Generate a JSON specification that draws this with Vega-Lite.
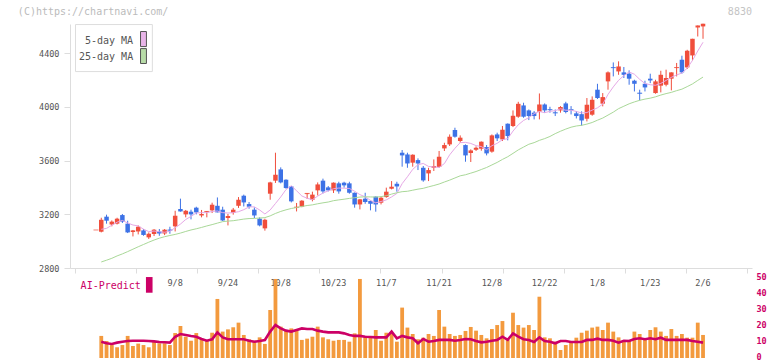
{
"$schema": "https://vega.github.io/schema/vega-lite/v6.json",
"width": 682, "height": 358,
"autosize": {"type": "none"},
"padding": {"left": 70, "top": 0, "right": 20, "bottom": 3},
"background": "white",
"config": {"view": {"stroke": null}, "font": "DejaVu Sans Mono"},
"datasets": {
"quotes": [
{"i":0,"date":"2025-08-18","open":3083,"high":3083,"low":3083,"close":3083,"volume":null,"ai":null,"ma5":null,"ma25":null},
{"i":1,"date":"2025-08-19","open":3070,"high":3174,"low":3065,"close":3159,"volume":13.8,"ai":10.2,"ma5":3088,"ma25":2845},
{"i":2,"date":"2025-08-20","open":3182,"high":3197,"low":3130,"close":3152,"volume":10.6,"ai":9.2,"ma5":3095,"ma25":2858},
{"i":3,"date":"2025-08-21","open":3124,"high":3154,"low":3110,"close":3145,"volume":8.1,"ai":8.8,"ma5":3118,"ma25":2872},
{"i":4,"date":"2025-08-22","open":3130,"high":3174,"low":3124,"close":3167,"volume":6.7,"ai":9.6,"ma5":3141,"ma25":2890},
{"i":5,"date":"2025-08-25","open":3194,"high":3202,"low":3135,"close":3145,"volume":8.1,"ai":10.2,"ma5":3154,"ma25":2905},
{"i":6,"date":"2025-08-26","open":3130,"high":3152,"low":3060,"close":3065,"volume":13.8,"ai":10.6,"ma5":3135,"ma25":2922},
{"i":7,"date":"2025-08-27","open":3068,"high":3083,"low":3035,"close":3080,"volume":7.5,"ai":10.8,"ma5":3120,"ma25":2940},
{"i":8,"date":"2025-08-28","open":3072,"high":3117,"low":3050,"close":3107,"volume":9.0,"ai":10.8,"ma5":3113,"ma25":2958},
{"i":9,"date":"2025-08-29","open":3080,"high":3090,"low":3040,"close":3046,"volume":8.1,"ai":10.8,"ma5":3089,"ma25":2975},
{"i":10,"date":"2025-09-01","open":3028,"high":3065,"low":3016,"close":3055,"volume":6.7,"ai":10.6,"ma5":3071,"ma25":2992},
{"i":11,"date":"2025-09-02","open":3053,"high":3090,"low":3038,"close":3085,"volume":10.6,"ai":10.4,"ma5":3075,"ma25":3008},
{"i":12,"date":"2025-09-03","open":3072,"high":3090,"low":3040,"close":3057,"volume":9.2,"ai":10.0,"ma5":3070,"ma25":3022},
{"i":13,"date":"2025-09-04","open":3057,"high":3090,"low":3045,"close":3085,"volume":9.2,"ai":9.8,"ma5":3066,"ma25":3033},
{"i":14,"date":"2025-09-05","open":3085,"high":3107,"low":3055,"close":3081,"volume":8.1,"ai":9.6,"ma5":3073,"ma25":3042},
{"i":15,"date":"2025-09-08","open":3110,"high":3226,"low":3072,"close":3189,"volume":15.6,"ai":13.3,"ma5":3100,"ma25":3050},
{"i":16,"date":"2025-09-09","open":3239,"high":3316,"low":3219,"close":3221,"volume":20.0,"ai":15.0,"ma5":3127,"ma25":3060},
{"i":17,"date":"2025-09-10","open":3199,"high":3232,"low":3177,"close":3226,"volume":13.3,"ai":14.4,"ma5":3161,"ma25":3072},
{"i":18,"date":"2025-09-11","open":3219,"high":3234,"low":3162,"close":3199,"volume":10.8,"ai":13.8,"ma5":3184,"ma25":3083},
{"i":19,"date":"2025-09-12","open":3249,"high":3256,"low":3199,"close":3214,"volume":15.6,"ai":13.3,"ma5":3210,"ma25":3092},
{"i":20,"date":"2025-09-16","open":3191,"high":3232,"low":3177,"close":3202,"volume":11.9,"ai":11.9,"ma5":3212,"ma25":3102},
{"i":21,"date":"2025-09-17","open":3216,"high":3224,"low":3177,"close":3221,"volume":10.8,"ai":10.8,"ma5":3212,"ma25":3113},
{"i":22,"date":"2025-09-18","open":3229,"high":3286,"low":3209,"close":3271,"volume":15.8,"ai":11.7,"ma5":3221,"ma25":3123},
{"i":23,"date":"2025-09-19","open":3263,"high":3325,"low":3214,"close":3214,"volume":36.9,"ai":16.0,"ma5":3224,"ma25":3134},
{"i":24,"date":"2025-09-22","open":3234,"high":3256,"low":3150,"close":3154,"volume":16.5,"ai":12.9,"ma5":3212,"ma25":3145},
{"i":25,"date":"2025-09-24","open":3172,"high":3202,"low":3117,"close":3187,"volume":17.9,"ai":11.7,"ma5":3209,"ma25":3149},
{"i":26,"date":"2025-09-25","open":3211,"high":3247,"low":3197,"close":3234,"volume":19.2,"ai":11.7,"ma5":3212,"ma25":3152},
{"i":27,"date":"2025-09-26","open":3263,"high":3328,"low":3247,"close":3308,"volume":22.1,"ai":11.7,"ma5":3219,"ma25":3158},
{"i":28,"date":"2025-09-29","open":3338,"high":3346,"low":3258,"close":3288,"volume":14.4,"ai":11.7,"ma5":3234,"ma25":3164},
{"i":29,"date":"2025-09-30","open":3276,"high":3291,"low":3241,"close":3256,"volume":11.7,"ai":10.8,"ma5":3255,"ma25":3168},
{"i":30,"date":"2025-10-01","open":3234,"high":3251,"low":3172,"close":3191,"volume":10.8,"ai":10.2,"ma5":3255,"ma25":3169},
{"i":31,"date":"2025-10-02","open":3167,"high":3177,"low":3110,"close":3117,"volume":12.9,"ai":10.6,"ma5":3232,"ma25":3172},
{"i":32,"date":"2025-10-03","open":3095,"high":3167,"low":3078,"close":3159,"volume":8.8,"ai":11.25,"ma5":3202,"ma25":3175},
{"i":33,"date":"2025-10-06","open":3353,"high":3442,"low":3308,"close":3437,"volume":30.0,"ai":16.5,"ma5":3232,"ma25":3188},
{"i":34,"date":"2025-10-07","open":3450,"high":3658,"low":3433,"close":3494,"volume":49.4,"ai":20.6,"ma5":3280,"ma25":3206},
{"i":35,"date":"2025-10-08","open":3534,"high":3549,"low":3430,"close":3437,"volume":19.6,"ai":18.5,"ma5":3329,"ma25":3221},
{"i":36,"date":"2025-10-09","open":3457,"high":3460,"low":3390,"close":3395,"volume":16.9,"ai":17.1,"ma5":3384,"ma25":3233},
{"i":37,"date":"2025-10-10","open":3407,"high":3410,"low":3288,"close":3296,"volume":18.5,"ai":16.5,"ma5":3412,"ma25":3243},
{"i":38,"date":"2025-10-14","open":3249,"high":3284,"low":3221,"close":3253,"volume":17.5,"ai":17.5,"ma5":3375,"ma25":3250},
{"i":39,"date":"2025-10-15","open":3256,"high":3305,"low":3252,"close":3301,"volume":11.3,"ai":18.5,"ma5":3336,"ma25":3258},
{"i":40,"date":"2025-10-16","open":3350,"high":3358,"low":3314,"close":3355,"volume":12.1,"ai":18.1,"ma5":3319,"ma25":3265},
{"i":41,"date":"2025-10-17","open":3308,"high":3368,"low":3296,"close":3346,"volume":13.3,"ai":18.1,"ma5":3309,"ma25":3270},
{"i":42,"date":"2025-10-20","open":3378,"high":3437,"low":3340,"close":3422,"volume":19.6,"ai":17.1,"ma5":3335,"ma25":3278},
{"i":43,"date":"2025-10-21","open":3450,"high":3465,"low":3355,"close":3370,"volume":12.9,"ai":16.5,"ma5":3358,"ma25":3285},
{"i":44,"date":"2025-10-22","open":3400,"high":3410,"low":3370,"close":3378,"volume":11.7,"ai":16.0,"ma5":3374,"ma25":3291},
{"i":45,"date":"2025-10-23","open":3378,"high":3437,"low":3358,"close":3435,"volume":10.8,"ai":16.0,"ma5":3390,"ma25":3301},
{"i":46,"date":"2025-10-24","open":3430,"high":3442,"low":3353,"close":3370,"volume":11.3,"ai":16.0,"ma5":3395,"ma25":3307},
{"i":47,"date":"2025-10-27","open":3435,"high":3442,"low":3398,"close":3415,"volume":11.3,"ai":15.4,"ma5":3394,"ma25":3312},
{"i":48,"date":"2025-10-28","open":3430,"high":3442,"low":3353,"close":3360,"volume":10.2,"ai":14.4,"ma5":3392,"ma25":3318},
{"i":49,"date":"2025-10-29","open":3360,"high":3362,"low":3249,"close":3273,"volume":15.4,"ai":13.8,"ma5":3371,"ma25":3323},
{"i":50,"date":"2025-10-30","open":3273,"high":3314,"low":3236,"close":3311,"volume":49.4,"ai":13.8,"ma5":3346,"ma25":3328},
{"i":51,"date":"2025-10-31","open":3316,"high":3360,"low":3278,"close":3291,"volume":13.8,"ai":13.3,"ma5":3330,"ma25":3330},
{"i":52,"date":"2025-11-04","open":3299,"high":3302,"low":3229,"close":3278,"volume":13.3,"ai":13.1,"ma5":3303,"ma25":3329},
{"i":53,"date":"2025-11-05","open":3331,"high":3333,"low":3219,"close":3273,"volume":17.5,"ai":12.9,"ma5":3285,"ma25":3328},
{"i":54,"date":"2025-11-06","open":3286,"high":3331,"low":3273,"close":3323,"volume":10.8,"ai":12.9,"ma5":3295,"ma25":3331},
{"i":55,"date":"2025-11-07","open":3328,"high":3398,"low":3323,"close":3368,"volume":15.8,"ai":12.9,"ma5":3307,"ma25":3338},
{"i":56,"date":"2025-11-10","open":3390,"high":3447,"low":3385,"close":3405,"volume":15.8,"ai":16.5,"ma5":3329,"ma25":3350},
{"i":57,"date":"2025-11-11","open":3427,"high":3442,"low":3368,"close":3407,"volume":10.2,"ai":12.3,"ma5":3355,"ma25":3360},
{"i":58,"date":"2025-11-12","open":3658,"high":3678,"low":3554,"close":3638,"volume":31.5,"ai":13.8,"ma5":3428,"ma25":3368},
{"i":59,"date":"2025-11-13","open":3645,"high":3658,"low":3546,"close":3578,"volume":19.0,"ai":12.9,"ma5":3479,"ma25":3371},
{"i":60,"date":"2025-11-14","open":3584,"high":3646,"low":3554,"close":3643,"volume":15.0,"ai":12.3,"ma5":3534,"ma25":3379},
{"i":61,"date":"2025-11-17","open":3603,"high":3616,"low":3529,"close":3578,"volume":11.7,"ai":9.2,"ma5":3569,"ma25":3387},
{"i":62,"date":"2025-11-18","open":3546,"high":3559,"low":3442,"close":3452,"volume":12.7,"ai":11.9,"ma5":3578,"ma25":3393},
{"i":63,"date":"2025-11-19","open":3504,"high":3546,"low":3447,"close":3529,"volume":15.0,"ai":10.2,"ma5":3556,"ma25":3404},
{"i":64,"date":"2025-11-20","open":3546,"high":3608,"low":3522,"close":3559,"volume":13.8,"ai":10.6,"ma5":3552,"ma25":3414},
{"i":65,"date":"2025-11-21","open":3552,"high":3671,"low":3546,"close":3628,"volume":30.0,"ai":11.3,"ma5":3549,"ma25":3425},
{"i":66,"date":"2025-11-25","open":3690,"high":3732,"low":3671,"close":3715,"volume":19.6,"ai":11.3,"ma5":3577,"ma25":3440},
{"i":67,"date":"2025-11-26","open":3720,"high":3794,"low":3708,"close":3777,"volume":15.0,"ai":11.3,"ma5":3642,"ma25":3454},
{"i":68,"date":"2025-11-27","open":3827,"high":3844,"low":3770,"close":3777,"volume":13.8,"ai":10.8,"ma5":3691,"ma25":3470},
{"i":69,"date":"2025-11-28","open":3745,"high":3787,"low":3732,"close":3770,"volume":14.4,"ai":11.3,"ma5":3733,"ma25":3486},
{"i":70,"date":"2025-12-01","open":3715,"high":3720,"low":3591,"close":3638,"volume":16.9,"ai":11.9,"ma5":3735,"ma25":3494},
{"i":71,"date":"2025-12-02","open":3656,"high":3683,"low":3589,"close":3675,"volume":19.4,"ai":11.7,"ma5":3727,"ma25":3506},
{"i":72,"date":"2025-12-03","open":3680,"high":3705,"low":3671,"close":3695,"volume":17.1,"ai":10.6,"ma5":3711,"ma25":3518},
{"i":73,"date":"2025-12-04","open":3688,"high":3742,"low":3673,"close":3740,"volume":14.4,"ai":9.8,"ma5":3704,"ma25":3533},
{"i":74,"date":"2025-12-05","open":3700,"high":3715,"low":3638,"close":3653,"volume":12.3,"ai":10.2,"ma5":3680,"ma25":3548},
{"i":75,"date":"2025-12-08","open":3666,"high":3794,"low":3658,"close":3787,"volume":18.1,"ai":10.8,"ma5":3710,"ma25":3567},
{"i":76,"date":"2025-12-09","open":3794,"high":3807,"low":3745,"close":3765,"volume":20.6,"ai":11.3,"ma5":3728,"ma25":3586},
{"i":77,"date":"2025-12-10","open":3757,"high":3857,"low":3745,"close":3829,"volume":23.1,"ai":13.3,"ma5":3755,"ma25":3608},
{"i":78,"date":"2025-12-11","open":3874,"high":3876,"low":3750,"close":3782,"volume":11.3,"ai":11.3,"ma5":3763,"ma25":3628},
{"i":79,"date":"2025-12-12","open":3857,"high":3973,"low":3849,"close":3933,"volume":28.3,"ai":15.4,"ma5":3819,"ma25":3653},
{"i":80,"date":"2025-12-15","open":3926,"high":4037,"low":3918,"close":4022,"volume":20.6,"ai":13.3,"ma5":3866,"ma25":3679},
{"i":81,"date":"2025-12-16","open":4010,"high":4030,"low":3918,"close":3926,"volume":19.0,"ai":11.7,"ma5":3898,"ma25":3700},
{"i":82,"date":"2025-12-17","open":3973,"high":3980,"low":3901,"close":3931,"volume":20.6,"ai":11.3,"ma5":3919,"ma25":3721},
{"i":83,"date":"2025-12-18","open":3956,"high":3968,"low":3906,"close":3931,"volume":17.5,"ai":10.0,"ma5":3949,"ma25":3733},
{"i":84,"date":"2025-12-19","open":3963,"high":4099,"low":3906,"close":4017,"volume":38.3,"ai":12.9,"ma5":3965,"ma25":3750},
{"i":85,"date":"2025-12-22","open":4017,"high":4025,"low":3956,"close":3973,"volume":12.9,"ai":10.6,"ma5":3956,"ma25":3763},
{"i":86,"date":"2025-12-23","open":3982,"high":4000,"low":3956,"close":3978,"volume":12.3,"ai":10.2,"ma5":3966,"ma25":3779},
{"i":87,"date":"2025-12-24","open":3958,"high":3980,"low":3931,"close":3954,"volume":10.2,"ai":9.2,"ma5":3971,"ma25":3800},
{"i":88,"date":"2025-12-25","open":3973,"high":4005,"low":3956,"close":3998,"volume":5.0,"ai":10.6,"ma5":3985,"ma25":3818},
{"i":89,"date":"2025-12-26","open":4025,"high":4037,"low":3951,"close":3961,"volume":8.1,"ai":10.6,"ma5":3974,"ma25":3834},
{"i":90,"date":"2025-12-29","open":3982,"high":4005,"low":3943,"close":3978,"volume":10.6,"ai":10.0,"ma5":3975,"ma25":3848},
{"i":91,"date":"2025-12-30","open":3951,"high":3968,"low":3913,"close":3931,"volume":12.7,"ai":10.0,"ma5":3965,"ma25":3857},
{"i":92,"date":"2026-01-05","open":3945,"high":3966,"low":3859,"close":3898,"volume":15.8,"ai":10.0,"ma5":3954,"ma25":3862},
{"i":93,"date":"2026-01-06","open":3911,"high":4065,"low":3891,"close":4015,"volume":17.1,"ai":11.3,"ma5":3957,"ma25":3871},
{"i":94,"date":"2026-01-07","open":3941,"high":4077,"low":3933,"close":4052,"volume":19.0,"ai":11.3,"ma5":3975,"ma25":3883},
{"i":95,"date":"2026-01-08","open":4127,"high":4171,"low":4058,"close":4065,"volume":19.6,"ai":12.1,"ma5":3992,"ma25":3900},
{"i":96,"date":"2026-01-09","open":4023,"high":4102,"low":4003,"close":4072,"volume":17.5,"ai":11.3,"ma5":4020,"ma25":3916},
{"i":97,"date":"2026-01-13","open":4189,"high":4263,"low":4127,"close":4256,"volume":22.1,"ai":11.3,"ma5":4092,"ma25":3938},
{"i":98,"date":"2026-01-14","open":4295,"high":4330,"low":4226,"close":4291,"volume":16.5,"ai":10.8,"ma5":4148,"ma25":3960},
{"i":99,"date":"2026-01-15","open":4263,"high":4338,"low":4238,"close":4300,"volume":12.9,"ai":9.6,"ma5":4197,"ma25":3986},
{"i":100,"date":"2026-01-16","open":4256,"high":4296,"low":4214,"close":4238,"volume":10.2,"ai":10.8,"ma5":4232,"ma25":4004},
{"i":101,"date":"2026-01-19","open":4246,"high":4271,"low":4164,"close":4209,"volume":11.3,"ai":10.6,"ma5":4259,"ma25":4022},
{"i":102,"date":"2026-01-20","open":4194,"high":4201,"low":4114,"close":4171,"volume":16.5,"ai":11.9,"ma5":4242,"ma25":4036},
{"i":103,"date":"2026-01-21","open":4104,"high":4127,"low":4047,"close":4100,"volume":15.0,"ai":12.3,"ma5":4204,"ma25":4048},
{"i":104,"date":"2026-01-22","open":4171,"high":4194,"low":4114,"close":4144,"volume":11.3,"ai":11.7,"ma5":4173,"ma25":4057},
{"i":105,"date":"2026-01-23","open":4209,"high":4246,"low":4176,"close":4196,"volume":17.5,"ai":12.3,"ma5":4164,"ma25":4064},
{"i":106,"date":"2026-01-26","open":4102,"high":4201,"low":4097,"close":4189,"volume":19.2,"ai":11.7,"ma5":4160,"ma25":4074},
{"i":107,"date":"2026-01-27","open":4157,"high":4268,"low":4107,"close":4238,"volume":16.5,"ai":12.7,"ma5":4174,"ma25":4087},
{"i":108,"date":"2026-01-28","open":4164,"high":4276,"low":4152,"close":4214,"volume":13.8,"ai":11.3,"ma5":4196,"ma25":4098},
{"i":109,"date":"2026-01-29","open":4209,"high":4256,"low":4122,"close":4256,"volume":18.1,"ai":11.3,"ma5":4219,"ma25":4107},
{"i":110,"date":"2026-01-30","open":4288,"high":4326,"low":4226,"close":4292,"volume":13.8,"ai":11.3,"ma5":4237,"ma25":4120},
{"i":111,"date":"2026-02-02","open":4350,"high":4380,"low":4246,"close":4256,"volume":15.0,"ai":11.3,"ma5":4251,"ma25":4131},
{"i":112,"date":"2026-02-03","open":4293,"high":4424,"low":4281,"close":4417,"volume":12.7,"ai":11.3,"ma5":4287,"ma25":4150},
{"i":113,"date":"2026-02-04","open":4382,"high":4506,"low":4345,"close":4506,"volume":12.7,"ai":10.6,"ma5":4345,"ma25":4170},
{"i":114,"date":"2026-02-05","open":4590,"high":4605,"low":4523,"close":4605,"volume":22.1,"ai":10.2,"ma5":4415,"ma25":4196},
{"i":115,"date":"2026-02-06","open":4598,"high":4618,"low":4506,"close":4618,"volume":14.4,"ai":9.6,"ma5":4480,"ma25":4221}
],
"dateLabels": [
{"i":15,"label":"9/8"},{"i":25,"label":"9/24"},{"i":35,"label":"10/8"},{"i":45,"label":"10/23"},{"i":55,"label":"11/7"},{"i":65,"label":"11/21"},{"i":75,"label":"12/8"},{"i":85,"label":"12/22"},{"i":95,"label":"1/8"},{"i":105,"label":"1/23"},{"i":115,"label":"2/6"}
]
},
"resolve": {"scale": {"y": "independent"}, "axis": {"y": "independent"}},
"layer": [
{
"layer": [
{
"data": {"name": "quotes"},
"mark": {"type": "rule", "strokeWidth": 1},
"encoding": {
"x": {"field": "i", "type": "quantitative", "title": null,
"scale": {"domain": [-3.976, 123.33], "nice": false, "zero": false},
"axis": {"orient": "bottom", "offset": -90, "title": null, "labels": false, "grid": false,
"values": [-3.976, 7.597, 19.17, 30.74, 42.32, 53.89, 65.46, 77.04, 88.61, 100.18, 111.76, 123.33],
"domainColor": "#dddddd", "tickColor": "#dddddd", "tickSize": 5}},
"y": {"field": "low", "type": "quantitative", "title": null,
"scale": {"domain": [2800, 4616], "range": [268, 24], "nice": false, "zero": false},
"axis": {"orient": "left", "title": null, "grid": false, "values": [2800, 3200, 3600, 4000, 4400], "format": "d",
"domainColor": "#dddddd", "tickColor": "#dddddd", "tickSize": 6,
"labelFont": "DejaVu Sans Mono", "labelFontSize": 8.5, "labelColor": "#555555", "labelPadding": 5}},
"y2": {"field": "high"},
"color": {"condition": {"test": "datum.close >= datum.open", "value": "#f04e3c"}, "value": "#3d72e6"}
}
},
{
"data": {"name": "quotes"},
"mark": {"type": "bar", "width": 4.5},
"encoding": {
"x": {"field": "i", "type": "quantitative", "title": null},
"y": {"field": "open", "type": "quantitative", "title": null},
"y2": {"field": "close"},
"color": {"condition": {"test": "datum.close >= datum.open", "value": "#f04e3c"}, "value": "#3d72e6"}
}
},
{
"data": {"name": "quotes"},
"transform": [{"filter": "abs(datum.close - datum.open) < 8"}],
"mark": {"type": "tick", "orient": "horizontal", "size": 5, "thickness": 1},
"encoding": {
"x": {"field": "i", "type": "quantitative", "title": null},
"y": {"field": "close", "type": "quantitative", "title": null},
"color": {"condition": {"test": "datum.close >= datum.open", "value": "#f04e3c"}, "value": "#3d72e6"}
}
},
{
"data": {"name": "quotes"},
"mark": {"type": "line", "strokeWidth": 1, "color": "#e6a8e6"},
"encoding": {
"x": {"field": "i", "type": "quantitative", "title": null},
"y": {"field": "ma5", "type": "quantitative", "title": null}
}
},
{
"data": {"name": "quotes"},
"mark": {"type": "line", "strokeWidth": 1, "color": "#a9d898"},
"encoding": {
"x": {"field": "i", "type": "quantitative", "title": null},
"y": {"field": "ma25", "type": "quantitative", "title": null}
}
},
{
"data": {"values": [{"name": "legend box"}]},
"mark": {"type": "rect", "fill": "white", "stroke": "#dddddd", "strokeWidth": 1},
"encoding": {
"x": {"datum": -3.883, "type": "quantitative"}, "x2": {"datum": 10.678},
"y": {"datum": 4612, "type": "quantitative"}, "y2": {"datum": 4262}
}
},
{
"data": {"values": [{"label": "5-day MA"}]},
"mark": {"type": "text", "align": "right", "baseline": "middle", "font": "DejaVu Sans Mono", "fontSize": 10, "color": "#555555"},
"encoding": {"x": {"datum": 7.04, "type": "quantitative"}, "y": {"datum": 4489, "type": "quantitative"}, "text": {"field": "label"}}
},
{
"data": {"values": [{"label": "25-day MA"}]},
"mark": {"type": "text", "align": "right", "baseline": "middle", "font": "DejaVu Sans Mono", "fontSize": 10, "color": "#555555"},
"encoding": {"x": {"datum": 7.04, "type": "quantitative"}, "y": {"datum": 4370, "type": "quantitative"}, "text": {"field": "label"}}
},
{
"data": {"values": [{"name": "5-day swatch"}]},
"mark": {"type": "rect", "fill": "#e8b4e8", "stroke": "#555555", "strokeWidth": 1},
"encoding": {"x": {"datum": 8.437, "type": "quantitative"}, "x2": {"datum": 9.557}, "y": {"datum": 4560, "type": "quantitative"}, "y2": {"datum": 4448}}
},
{
"data": {"values": [{"name": "25-day swatch"}]},
"mark": {"type": "rect", "fill": "#b8dca8", "stroke": "#555555", "strokeWidth": 1},
"encoding": {"x": {"datum": 8.437, "type": "quantitative"}, "x2": {"datum": 9.557}, "y": {"datum": 4433, "type": "quantitative"}, "y2": {"datum": 4322}}
},
{
"data": {"values": [{"label": "(C)https://chartnavi.com/"}]},
"mark": {"type": "text", "align": "left", "baseline": "middle", "font": "DejaVu Sans Mono", "fontSize": 10, "color": "#bbbbbb"},
"encoding": {"x": {"datum": -14.8, "type": "quantitative"}, "y": {"datum": 4705, "type": "quantitative"}, "text": {"field": "label"}}
},
{
"data": {"values": [{"label": "8830"}]},
"mark": {"type": "text", "align": "right", "baseline": "middle", "font": "DejaVu Sans Mono", "fontSize": 10, "color": "#c4c4c4"},
"encoding": {"x": {"datum": 124.27, "type": "quantitative"}, "y": {"datum": 4705, "type": "quantitative"}, "text": {"field": "label"}}
}
]
},
{
"layer": [
{
"data": {"name": "dateLabels"},
"mark": {"type": "text", "align": "center", "baseline": "middle", "font": "DejaVu Sans Mono", "fontSize": 8.5, "color": "#555555"},
"encoding": {
"x": {"field": "i", "type": "quantitative", "title": null},
"y": {"datum": 46.9, "type": "quantitative"},
"text": {"field": "label"}
}
},
{
"data": {"name": "quotes"},
"mark": {"type": "bar", "width": 3.8, "color": "#f39a3e"},
"encoding": {
"x": {"field": "i", "type": "quantitative", "title": null},
"y": {"field": "volume", "type": "quantitative", "title": null, "stack": null,
"scale": {"domain": [0, 50], "range": [358, 278], "nice": false, "zero": true},
"axis": {"orient": "right", "title": null, "grid": false, "domain": false, "ticks": false,
"values": [0, 10, 20, 30, 40, 50], "labelFont": "DejaVu Sans Mono", "labelFontSize": 8.5,
"labelFontWeight": "bold", "labelColor": "#cc0066", "labelPadding": 4, "labelOffset": -1.5}},
"y2": {"datum": 0}
}
},
{
"data": {"name": "quotes"},
"mark": {"type": "line", "strokeWidth": 2.6, "color": "#cc0066"},
"encoding": {
"x": {"field": "i", "type": "quantitative", "title": null},
"y": {"field": "ai", "type": "quantitative", "title": null}
}
},
{
"data": {"values": [{"label": "AI-Predict"}]},
"mark": {"type": "text", "align": "left", "baseline": "middle", "font": "DejaVu Sans Mono", "fontSize": 10, "color": "#cc0066"},
"encoding": {"x": {"datum": -2.912, "type": "quantitative"}, "y": {"datum": 45.2, "type": "quantitative"}, "text": {"field": "label"}}
},
{
"data": {"values": [{"name": "AI swatch"}]},
"mark": {"type": "rect", "fill": "#cc0066"},
"encoding": {"x": {"datum": 9.464, "type": "quantitative"}, "x2": {"datum": 10.715}, "y": {"datum": 50.6, "type": "quantitative"}, "y2": {"datum": 40.8}}
}
]
}
]
}
